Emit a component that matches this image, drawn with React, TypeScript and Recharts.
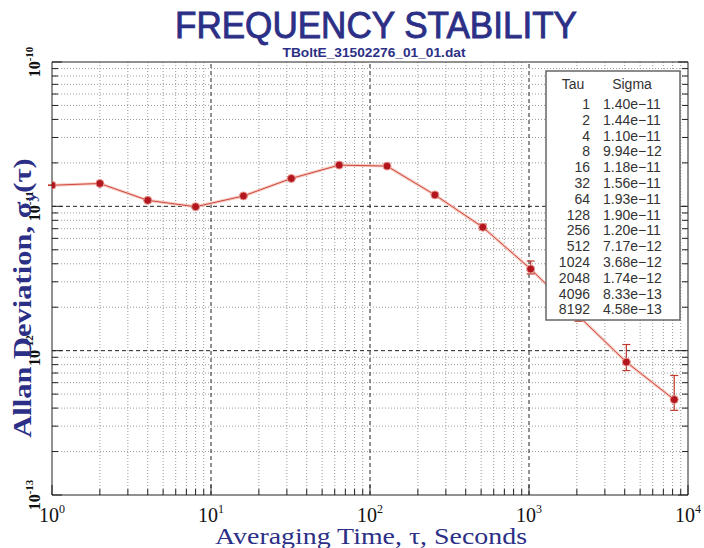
import React from 'react'
import { ComposedChart, Line, XAxis, YAxis, ReferenceLine, ErrorBar } from 'recharts'

// Allan deviation table (tau in seconds)
const tau = [1, 2, 4, 8, 16, 32, 64, 128, 256, 512, 1024, 2048, 4096, 8192]
const sigma = [
  1.40e-11, 1.44e-11, 1.10e-11, 9.94e-12, 1.18e-11, 1.56e-11, 1.93e-11,
  1.90e-11, 1.20e-11, 7.17e-12, 3.68e-12, 1.74e-12, 8.33e-13, 4.58e-13,
]
// error bar extent below / above each point
const errLow = [
  0.5e-13, 0.6e-13, 0.6e-13, 0.7e-13, 1.0e-13, 1.5e-13, 2.0e-13,
  2.5e-13, 2.5e-13, 3.0e-13, 2.8e-13, 1.4e-13, 1.05e-13, 7.2e-14,
]
const errHigh = [
  0.5e-13, 0.6e-13, 0.6e-13, 0.7e-13, 1.0e-13, 1.5e-13, 2.0e-13,
  2.5e-13, 3.0e-13, 3.5e-13, 5.0e-13, 2.5e-13, 2.7e-13, 2.15e-13,
]

// axis decades and the minor steps inside each
const xDecades = [1, 10, 100, 1000]
const xEnd = 10000
const yDecades = [1e-13, 1e-12, 1e-11]
const yEnd = 1e-10
const mantissas = [1, 2, 3, 4, 5, 6, 7, 8, 9]

const xTicks = [...xDecades.flatMap((d) => mantissas.map((m) => m * d)), xEnd]
const yTicks = [...yDecades.flatMap((d) => mantissas.map((m) => m * d)), yEnd]
const xMinor = xDecades.flatMap((d) => mantissas.slice(1).map((m) => m * d))
const yMinor = yDecades.flatMap((d) => mantissas.slice(1).map((m) => m * d))
const xMajor = xDecades.slice(1)
const yMajor = yDecades.slice(1)

const data = tau.map((t, i) => ({ tau: t, sigma: sigma[i], err: [errLow[i], errHigh[i]] }))

const BLUE = '#2c2f86'
const SERIF = '"Liberation Serif", "Times New Roman", serif'
const SANS = '"Liberation Sans", Arial, sans-serif'

function expOf(v: number) {
  return Math.round(Math.log10(v))
}
function isDecade(v: number) {
  const e = expOf(v)
  return Math.abs(v / Math.pow(10, e) - 1) < 1e-6
}

const XBottomTick = (p: any) => {
  const v = p.payload.value
  const major = isDecade(v)
  return (
    <g>
      <line x1={p.x} x2={p.x} y1={p.y} y2={p.y - (major ? 10 : 6)} stroke="#222" />
      {major && (
        <text x={p.x} y={p.y + 27} textAnchor="middle" fontFamily={SERIF} fontSize={20} fill="#111">
          10<tspan dy={-9} fontSize={12}>{expOf(v)}</tspan>
        </text>
      )}
    </g>
  )
}

const XTopTick = (p: any) => {
  const major = isDecade(p.payload.value)
  return <line x1={p.x} x2={p.x} y1={p.y} y2={p.y + (major ? 10 : 6)} stroke="#222" />
}

const YLeftTick = (p: any) => {
  const v = p.payload.value
  const major = isDecade(v)
  const lx = p.x - 12
  return (
    <g>
      <line x1={p.x} x2={p.x + (major ? 10 : 6)} y1={p.y} y2={p.y} stroke="#222" />
      {major && (
        <text
          x={lx}
          y={p.y}
          transform={`rotate(-90 ${lx} ${p.y})`}
          textAnchor="middle"
          fontFamily={SERIF}
          fontWeight="bold"
          fontSize={16}
          fill="#111"
        >
          10<tspan dy={-7} fontSize={11}>{expOf(v)}</tspan>
        </text>
      )}
    </g>
  )
}

const YRightTick = (p: any) => {
  const major = isDecade(p.payload.value)
  return <line x1={p.x} x2={p.x - (major ? 10 : 6)} y1={p.y} y2={p.y} stroke="#222" />
}

function fmtSigma(v: number) {
  return v.toExponential(2).replace('-', '\u2212')
}

export default function App() {
  return (
    <div style={{ position: 'absolute', left: 0, top: 0, width: 704, height: 548, background: '#fff' }}>
      <ComposedChart width={704} height={548} data={data} margin={{ top: 61, right: 0, bottom: 0, left: 0 }}>
        <XAxis
          dataKey="tau"
          type="number"
          scale="log"
          domain={[xDecades[0], xEnd]}
          ticks={xTicks}
          interval={0}
          tickSize={0}
          tickMargin={0}
          tickLine={false}
          axisLine={{ stroke: '#222' }}
          height={53}
          tick={XBottomTick}
          allowDataOverflow
        />
        <XAxis
          xAxisId="top"
          orientation="top"
          type="number"
          scale="log"
          domain={[xDecades[0], xEnd]}
          ticks={xTicks}
          interval={0}
          tickSize={0}
          tickMargin={0}
          tickLine={false}
          axisLine={{ stroke: '#222' }}
          height={1}
          tick={XTopTick}
          allowDataOverflow
        />
        <YAxis
          type="number"
          scale="log"
          domain={[yDecades[0], yEnd]}
          ticks={yTicks}
          interval={0}
          tickSize={0}
          tickMargin={0}
          tickLine={false}
          axisLine={{ stroke: '#222' }}
          width={52}
          tick={YLeftTick}
          allowDataOverflow
        />
        <YAxis
          yAxisId="right"
          orientation="right"
          type="number"
          scale="log"
          domain={[yDecades[0], yEnd]}
          ticks={yTicks}
          interval={0}
          tickSize={0}
          tickMargin={0}
          tickLine={false}
          axisLine={{ stroke: '#222' }}
          width={16}
          tick={YRightTick}
          allowDataOverflow
        />
        {xMinor.map((v) => (
          <ReferenceLine key={'xm' + v} x={v} stroke="#9a9a9a" strokeDasharray="1 2" />
        ))}
        {yMinor.map((v) => (
          <ReferenceLine key={'ym' + v} y={v} stroke="#9a9a9a" strokeDasharray="1 2" />
        ))}
        {xMajor.map((v) => (
          <ReferenceLine key={'xM' + v} x={v} stroke="#222" strokeDasharray="4 3" />
        ))}
        {yMajor.map((v) => (
          <ReferenceLine key={'yM' + v} y={v} stroke="#222" strokeDasharray="4 3" />
        ))}
        <Line
          dataKey="sigma"
          stroke="#f6c9c2"
          strokeWidth={3}
          dot={false}
          isAnimationActive={false}
        />
        <Line
          dataKey="sigma"
          stroke="#cf4a3c"
          strokeWidth={1}
          dot={{ r: 4, fill: '#b3161c', stroke: '#e79a92', strokeWidth: 1 }}
          isAnimationActive={false}
        >
          <ErrorBar dataKey="err" direction="y" width={4} stroke="#c0392b" strokeWidth={1.2} isAnimationActive={false} />
        </Line>
      </ComposedChart>

      <svg
        width={704}
        height={548}
        style={{ position: 'absolute', left: 0, top: 0, pointerEvents: 'none' }}
      >
        <text
          x={376}
          y={38}
          textAnchor="middle"
          fontFamily={SANS}
          fontSize={36}
          fill={BLUE}
          stroke={BLUE}
          strokeWidth={0.9}
          textLength={402}
          lengthAdjust="spacingAndGlyphs"
        >
          FREQUENCY STABILITY
        </text>
        <text
          x={374}
          y={57}
          textAnchor="middle"
          fontFamily={SANS}
          fontWeight="bold"
          fontSize={13}
          fill={BLUE}
          textLength={183}
          lengthAdjust="spacingAndGlyphs"
        >
          TBoltE_31502276_01_01.dat
        </text>
        <text
          transform="translate(31 298) rotate(-90) scale(1.22 1)"
          x={0}
          y={0}
          textAnchor="middle"
          fontFamily={SERIF}
          fontWeight="bold"
          fontSize={25}
          fill={BLUE}
        >
          Allan Deviation, σ<tspan dy={5} fontSize={15}>y</tspan>
          <tspan dy={-5}>(τ)</tspan>
        </text>
        <text
          x={371}
          y={544}
          textAnchor="middle"
          fontFamily={SERIF}
          fontSize={23}
          fill={BLUE}
          textLength={312}
          lengthAdjust="spacingAndGlyphs"
        >
          Averaging Time, τ, Seconds
        </text>

        <rect x={546} y={71} width={134} height={249} fill="#fff" stroke="#666" strokeWidth={1.5} />
        <text x={573} y={89} textAnchor="middle" fontFamily={SANS} fontSize={14} fill="#333">
          Tau
        </text>
        <text x={632} y={89} textAnchor="middle" fontFamily={SANS} fontSize={14} fill="#333">
          Sigma
        </text>
        {tau.map((t, i) => (
          <g key={t}>
            <text x={590} y={109 + i * 15.8} textAnchor="end" fontFamily={SANS} fontSize={14} fill="#333">
              {t}
            </text>
            <text x={603} y={109 + i * 15.8} textAnchor="start" fontFamily={SANS} fontSize={14} fill="#333">
              {fmtSigma(sigma[i])}
            </text>
          </g>
        ))}
      </svg>
    </div>
  )
}
